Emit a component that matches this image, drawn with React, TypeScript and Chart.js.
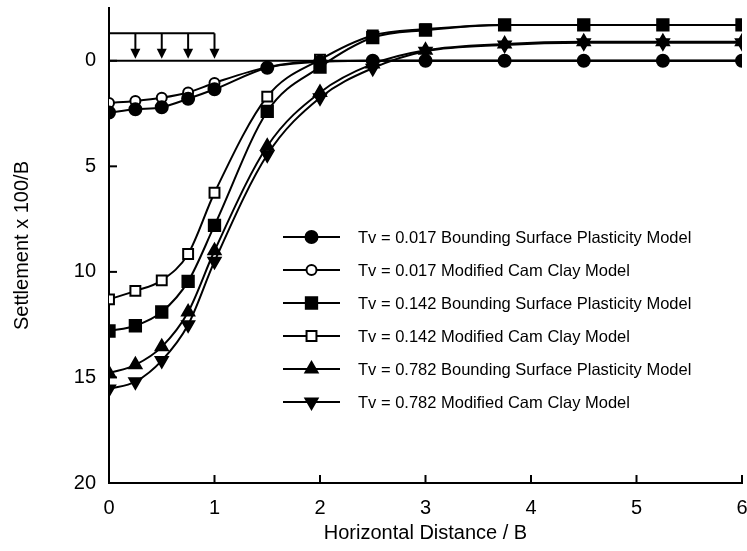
import React, { useEffect, useRef } from "react";
import { Chart, registerables } from "chart.js";
import { drawPoint } from "chart.js/helpers";

Chart.register(...registerables);

const X = [0, 0.25, 0.5, 0.75, 1, 1.5, 2, 2.5, 3, 3.75, 4.5, 5.25, 6];
const BSP_017 = [2.45, 2.3, 2.2, 1.8, 1.35, 0.33, 0.05, 0, 0, 0, 0, 0, 0];
const MCC_017 = [2.0, 1.9, 1.75, 1.5, 1.05, 0.3, 0.02, 0, 0, 0, 0, 0, 0];
const BSP_142 = [12.8, 12.55, 11.9, 10.45, 7.8, 2.4, 0.3, -1.1, -1.45, -1.7, -1.7, -1.7, -1.7];
const MCC_142 = [11.3, 10.9, 10.4, 9.15, 6.25, 1.7, -0.05, -1.2, -1.5, -1.7, -1.7, -1.7, -1.7];
const BSP_782 = [14.8, 14.4, 13.55, 11.9, 9.0, 4.05, 1.5, 0.15, -0.5, -0.8, -0.9, -0.9, -0.9];
const MCC_782 = [15.55, 15.2, 14.2, 12.5, 9.5, 4.45, 1.75, 0.35, -0.45, -0.75, -0.85, -0.85, -0.85];

const LABELS = [
  "Tv = 0.017 Bounding Surface Plasticity Model",
  "Tv = 0.017 Modified Cam Clay Model",
  "Tv = 0.142 Bounding Surface Plasticity Model",
  "Tv = 0.142 Modified Cam Clay Model",
  "Tv = 0.782 Bounding Surface Plasticity Model",
  "Tv = 0.782 Modified Cam Clay Model",
];

const X_TICKS = [0, 1, 2, 3, 4, 5, 6];
const Y_TICKS = [0, 5, 10, 15, 20];
const GROUND_X = [0, 6];
const GROUND_Y = [0, 0];
const LOAD_X = [0.25, 0.5, 0.75, 1];
const LOAD_LEVEL = -1.3;

const FONT = "'Liberation Sans', Arial, sans-serif";

type Style = { pointStyle: string; fill: boolean; rotation: number; radius: number };
const STYLES: Style[] = [
  { pointStyle: "circle", fill: true, rotation: 0, radius: 6 },
  { pointStyle: "circle", fill: false, rotation: 0, radius: 5 },
  { pointStyle: "rect", fill: true, rotation: 0, radius: 8 },
  { pointStyle: "rect", fill: false, rotation: 0, radius: 7 },
  { pointStyle: "triangle", fill: true, rotation: 0, radius: 7 },
  { pointStyle: "triangle", fill: true, rotation: 180, radius: 7 },
];

const SERIES = [BSP_017, MCC_017, BSP_142, MCC_142, BSP_782, MCC_782];

const overlayPlugin = {
  id: "overlay",
  afterDraw(chart: any) {
    const ctx = chart.ctx;
    const xs = chart.scales.x;
    const ys = chart.scales.y;
    const area = chart.chartArea;
    ctx.save();
    ctx.strokeStyle = "#000";
    ctx.fillStyle = "#000";
    ctx.lineWidth = 2;
    X_TICKS.forEach((v) => {
      const px = xs.getPixelForValue(v);
      ctx.beginPath();
      ctx.moveTo(px, area.bottom);
      ctx.lineTo(px, area.bottom - 8);
      ctx.stroke();
    });
    Y_TICKS.forEach((v) => {
      const py = ys.getPixelForValue(v);
      ctx.beginPath();
      ctx.moveTo(area.left, py);
      ctx.lineTo(area.left + 8, py);
      ctx.stroke();
    });
    const top = ys.getPixelForValue(LOAD_LEVEL);
    const base = ys.getPixelForValue(-0.1);
    ctx.beginPath();
    ctx.moveTo(xs.getPixelForValue(0), top);
    ctx.lineTo(xs.getPixelForValue(1), top);
    ctx.stroke();
    LOAD_X.forEach((v) => {
      const px = xs.getPixelForValue(v);
      ctx.beginPath();
      ctx.moveTo(px, top);
      ctx.lineTo(px, base - 9);
      ctx.stroke();
      ctx.beginPath();
      ctx.moveTo(px - 5, base - 10);
      ctx.lineTo(px + 5, base - 10);
      ctx.lineTo(px, base);
      ctx.closePath();
      ctx.fill();
    });
    const lx0 = 283, lx1 = 340, tx = 358;
    const y0 = 237, dy = 33;
    ctx.font = `16.5px ${FONT}`;
    ctx.textBaseline = "middle";
    ctx.textAlign = "left";
    LABELS.forEach((lab, i) => {
      const y = y0 + i * dy;
      const st = STYLES[i];
      ctx.lineWidth = 2;
      ctx.strokeStyle = "#000";
      ctx.beginPath();
      ctx.moveTo(lx0, y);
      ctx.lineTo(lx1, y);
      ctx.stroke();
      ctx.fillStyle = st.fill ? "#000" : "#fff";
      drawPoint(ctx, { pointStyle: st.pointStyle as any, rotation: st.rotation, radius: st.radius, borderWidth: 2 }, (lx0 + lx1) / 2, y);
      ctx.fillStyle = "#000";
      ctx.fillText(lab, tx, y + 1);
    });
    ctx.restore();
  },
};

export default function App() {
  const ref = useRef<HTMLCanvasElement>(null);
  useEffect(() => {
    if (!ref.current) return;
    const datasets: any[] = SERIES.map((s, i) => ({
      label: LABELS[i],
      data: X.map((x, j) => ({ x, y: s[j] })),
      borderColor: "#000",
      borderWidth: 2,
      backgroundColor: STYLES[i].fill ? "#000" : "#fff",
      pointBackgroundColor: STYLES[i].fill ? "#000" : "#fff",
      pointBorderColor: "#000",
      pointBorderWidth: 2,
      pointStyle: STYLES[i].pointStyle,
      pointRotation: STYLES[i].rotation,
      pointRadius: STYLES[i].radius,
      cubicInterpolationMode: "monotone",
      fill: false,
    }));
    datasets.unshift({
      label: "ground",
      data: GROUND_X.map((x, j) => ({ x, y: GROUND_Y[j] })),
      borderColor: "#000",
      borderWidth: 2,
      pointRadius: 0,
      fill: false,
    });
    const chart = new Chart(ref.current, {
      type: "line",
      data: { datasets },
      options: {
        animation: false,
        responsive: false,
        maintainAspectRatio: false,
        layout: { autoPadding: false, padding: { left: 0, top: 8, right: 5, bottom: 0 } },
        plugins: { legend: { display: false }, tooltip: { enabled: false } },
        scales: {
          x: {
            type: "linear",
            min: 0,
            max: 6,
            afterBuildTicks: (s: any) => {
              s.ticks = X_TICKS.map((v) => ({ value: v }));
            },
            afterFit: (s: any) => {
              s.height = 68;
              s.paddingLeft = 0;
              s.paddingRight = 0;
              s.paddingTop = 0;
              s.paddingBottom = 0;
            },
            grid: { display: false },
            border: { display: true, color: "#000", width: 2 },
            ticks: { color: "#000", font: { family: FONT, size: 20 }, padding: 5, maxRotation: 0 },
            title: {
              display: true,
              text: "Horizontal Distance / B",
              color: "#000",
              font: { family: FONT, size: 20 },
              padding: { top: 0, bottom: 6 },
            },
          },
          y: {
            type: "linear",
            min: -2.5,
            max: 20,
            reverse: true,
            afterBuildTicks: (s: any) => {
              s.ticks = Y_TICKS.map((v) => ({ value: v }));
            },
            afterFit: (s: any) => {
              s.width = 109;
              s.paddingLeft = 0;
              s.paddingRight = 0;
              s.paddingTop = 0;
              s.paddingBottom = 0;
            },
            grid: { display: false },
            border: { display: true, color: "#000", width: 2 },
            ticks: { color: "#000", font: { family: FONT, size: 20 }, padding: 5 },
            title: {
              display: true,
              text: "Settlement x 100/B",
              color: "#000",
              font: { family: FONT, size: 20 },
              padding: { top: 10, bottom: 0 },
            },
          },
        },
      },
      plugins: [overlayPlugin],
    });
    return () => chart.destroy();
  }, []);
  return (
    <div style={{ position: "absolute", left: 0, top: 0, width: 747, height: 551, background: "#fff" }}>
      <canvas ref={ref} width={747} height={551} style={{ width: 747, height: 551 }} />
    </div>
  );
}
